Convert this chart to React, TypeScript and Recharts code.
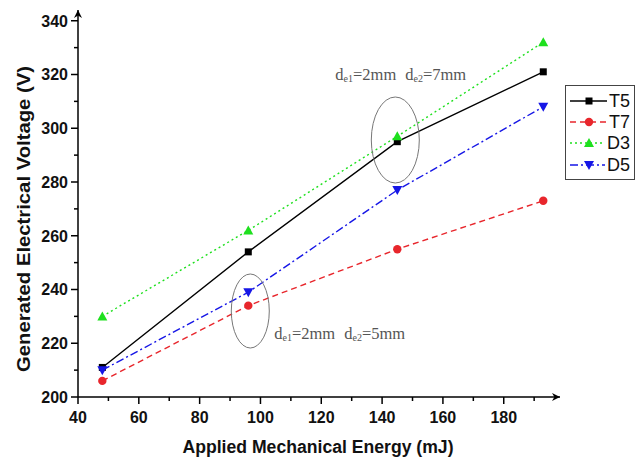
import { LineChart, Line, XAxis, YAxis, Legend, ReferenceDot } from 'recharts';

const energy = [48, 96, 145, 193];
const t5 = [211, 254, 295, 321];
const t7 = [206, 234, 255, 273];
const d3 = [230, 262, 297, 332];
const d5 = [210, 239, 277, 308];

const xTicks = [40, 50, 60, 70, 80, 90, 100, 110, 120, 130, 140, 150, 160, 170, 180, 190];
const yTicks = [200, 210, 220, 230, 240, 250, 260, 270, 280, 290, 300, 310, 320, 330, 340];

const data = energy.map((e, i) => ({ energy: e, T5: t5[i], T7: t7[i], D3: d3[i], D5: d5[i] }));

const SANS = '"Liberation Sans", Arial, sans-serif';
const SERIF = '"Liberation Serif", "Times New Roman", serif';

const RED = '#e8262c';
const GREEN = '#1ee01e';
const BLUE = '#1616e6';

type Shape = 'square' | 'circle' | 'up' | 'down';

function marker(shape: Shape, cx: number, cy: number, color: string) {
  if (shape === 'square') return <rect x={cx - 3.5} y={cy - 3.5} width={7} height={7} fill={color} />;
  if (shape === 'circle') return <circle cx={cx} cy={cy} r={4.2} fill={color} />;
  if (shape === 'up') return <path d={`M${cx},${cy - 5} L${cx + 5},${cy + 4} L${cx - 5},${cy + 4} Z`} fill={color} />;
  return <path d={`M${cx},${cy + 5} L${cx + 5},${cy - 4} L${cx - 5},${cy - 4} Z`} fill={color} />;
}

const series = [
  { key: 'T5', color: '#000', dash: undefined, shape: 'square' as Shape },
  { key: 'T7', color: RED, dash: '6 4', shape: 'circle' as Shape },
  { key: 'D3', color: GREEN, dash: '2 3', shape: 'up' as Shape },
  { key: 'D5', color: BLUE, dash: '8 3 2 3', shape: 'down' as Shape },
];

const XTick = (props: any) => {
  const { x, y, payload } = props;
  const major = payload.value % 20 === 0;
  return (
    <g>
      <line x1={x} x2={x} y1={y} y2={y + (major ? 7 : 4)} stroke="#000" strokeWidth={1.5} />
      {major && (
        <text x={x} y={y + 26} textAnchor="middle" fontFamily={SANS} fontWeight="bold" fontSize={16} fill="#111">
          {payload.value}
        </text>
      )}
    </g>
  );
};

const YTick = (props: any) => {
  const { x, y, payload } = props;
  const major = payload.value % 20 === 0;
  return (
    <g>
      <line x1={x} x2={x - (major ? 7 : 4)} y1={y} y2={y} stroke="#000" strokeWidth={1.5} />
      {major && (
        <text x={x - 10} y={y} dy="0.36em" textAnchor="end" fontFamily={SANS} fontWeight="bold" fontSize={16} fill="#111">
          {payload.value}
        </text>
      )}
    </g>
  );
};

const YLabel = (props: any) => {
  const vb = props.viewBox || {};
  const cx = vb.x + 24;
  const cy = vb.y + vb.height / 2 + 15.5;
  return (
    <text
      x={cx}
      y={cy}
      transform={`rotate(-90, ${cx}, ${cy})`}
      textAnchor="middle"
      dy="0.36em"
      fontFamily={SANS}
      fontWeight="bold"
      fontSize={18}
      textLength={306}
      lengthAdjust="spacingAndGlyphs"
      fill="#111"
    >
      Generated Electrical Voltage (V)
    </text>
  );
};

const XLabel = (props: any) => {
  const vb = props.viewBox || {};
  return (
    <text
      x={vb.x + vb.width / 2 - 1}
      y={vb.y + 56}
      textAnchor="middle"
      fontFamily={SANS}
      fontWeight="bold"
      fontSize={17.5}
      textLength={271}
      lengthAdjust="spacingAndGlyphs"
      fill="#111"
    >
      Applied Mechanical Energy (mJ)
    </text>
  );
};

const Note = ({ x, y, d2 }: { x: number; y: number; d2: string }) => (
  <text x={x} y={y} fontFamily={SERIF} fontSize={16.5} fill="#555">
    d<tspan fontSize={10} dy={2}>e1</tspan>
    <tspan dy={-2}>=2mm</tspan>
    <tspan dx={9}>d</tspan>
    <tspan fontSize={10} dy={2}>e2</tspan>
    <tspan dy={-2}>={d2}</tspan>
  </text>
);

const LegendBox = () => (
  <div style={{ border: '1px solid #444', background: '#fff', padding: '4px 4px 4px 3px', width: 70, boxSizing: 'border-box' }}>
    {series.map((s) => (
      <div key={s.key} style={{ display: 'flex', alignItems: 'center', height: 21.3 }}>
        <svg width={40} height={14}>
          <line x1={1} x2={39} y1={7} y2={7} stroke={s.color} strokeWidth={1.3} strokeDasharray={s.dash} />
          {marker(s.shape, 20, 7, s.color)}
        </svg>
        <span style={{ fontFamily: SANS, fontSize: 18, color: '#111', marginLeft: 2, lineHeight: 1 }}>{s.key}</span>
      </div>
    ))}
  </div>
);

export default function App() {
  return (
    <div style={{ position: 'absolute', left: 0, top: 0, width: 638, height: 460, background: '#fff' }}>
      <svg width={0} height={0} style={{ position: 'absolute' }}>
        <defs>
          <marker
            id="axisArrow"
            viewBox="0 0 10 10"
            refX={10}
            refY={5}
            markerWidth={10}
            markerHeight={8}
            markerUnits="userSpaceOnUse"
            orient="auto-start-reverse"
          >
            <path d="M0,0 L10,5 L0,10 L3,5 Z" fill="#000" />
          </marker>
        </defs>
      </svg>
      <LineChart width={638} height={460} data={data} margin={{ top: 10, right: 78, bottom: 0, left: 0 }}>
        <XAxis
          dataKey="energy"
          type="number"
          domain={[40, 198.5]}
          ticks={xTicks}
          interval={0}
          allowDataOverflow
          height={63}
          tickSize={0}
          tickMargin={0}
          tickLine={false}
          tick={<XTick />}
          axisLine={{ stroke: '#000', strokeWidth: 1.5, markerEnd: 'url(#axisArrow)' }}
          label={<XLabel />}
        />
        <YAxis
          type="number"
          domain={[200, 344]}
          ticks={yTicks}
          interval={0}
          allowDataOverflow
          width={78}
          tickSize={0}
          tickMargin={0}
          tickLine={false}
          tick={<YTick />}
          axisLine={{ stroke: '#000', strokeWidth: 1.5, markerStart: 'url(#axisArrow)' }}
          label={<YLabel />}
        />
        <Legend
          layout="vertical"
          align="center"
          verticalAlign="middle"
          content={<LegendBox />}
          wrapperStyle={{ position: 'absolute', left: 565, top: 85, width: 'auto', height: 'auto' }}
        />
        {series.map((s) => (
          <Line
            key={s.key}
            dataKey={s.key}
            name={s.key}
            type="linear"
            stroke={s.color}
            strokeWidth={1.4}
            strokeDasharray={s.dash}
            isAnimationActive={false}
            dot={(p: any) => <g key={`${s.key}-${p.index}`}>{marker(s.shape, p.cx, p.cy, s.color)}</g>}
            activeDot={false}
          />
        ))}
        <ReferenceDot
          x={145}
          y={296}
          r={0}
          isFront
          shape={(p: any) => (
            <g>
              <ellipse cx={p.cx - 2} cy={p.cy + 1} rx={24} ry={43} fill="none" stroke="#777" strokeWidth={1} />
              <Note x={p.cx - 62} y={p.cy - 59} d2="7mm" />
            </g>
          )}
        />
        <ReferenceDot
          x={96}
          y={232}
          r={0}
          isFront
          shape={(p: any) => (
            <g>
              <ellipse cx={p.cx + 2} cy={p.cy} rx={19} ry={37} fill="none" stroke="#777" strokeWidth={1} />
              <Note x={p.cx + 26} y={p.cy + 28} d2="5mm" />
            </g>
          )}
        />
      </LineChart>
    </div>
  );
}
